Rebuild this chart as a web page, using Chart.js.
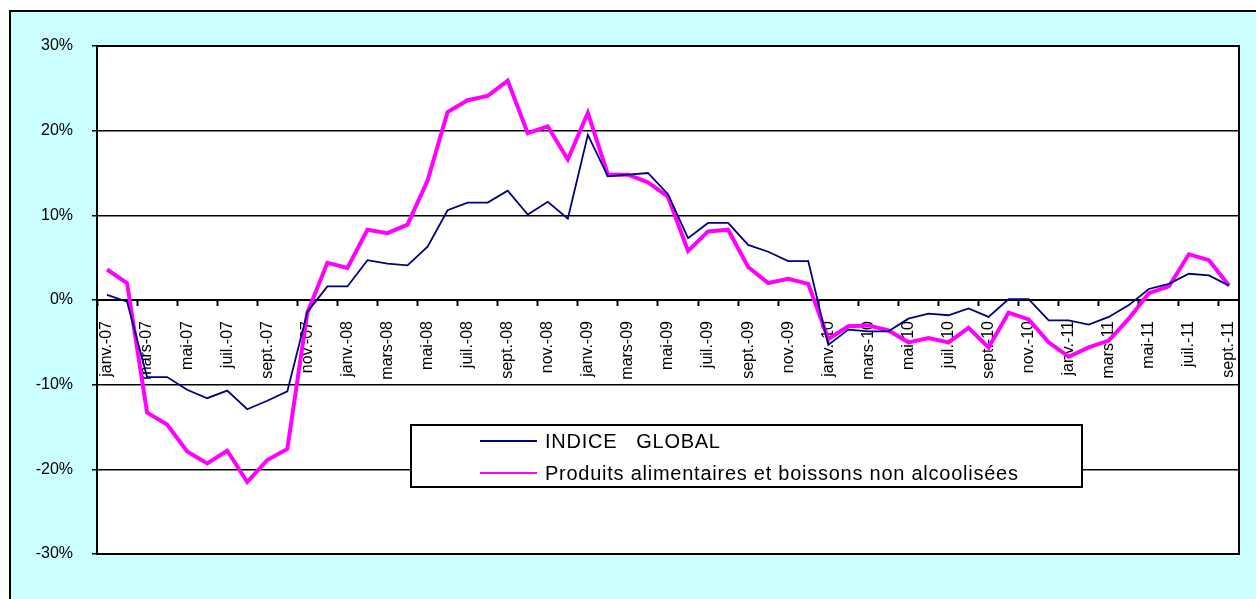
<!DOCTYPE html>
<html>
<head>
<meta charset="utf-8">
<script src="https://cdn.jsdelivr.net/npm/chart.js@4/dist/chart.umd.min.js"></script>
<style>
  body { margin: 0; background: #fff; overflow: hidden; }
  #frame { position: absolute; left: 9px; top: 10px; width: 1260px; height: 620px;
           background: #ccffff; border: 2px solid #000; }
  #wrap { position: absolute; left: 0; top: 0; width: 1256px; height: 599px; }
</style>
</head>
<body>
<div id="frame"></div>
<div id="wrap"><canvas id="lineChart" width="1256" height="599"></canvas></div>
<script>
// months janv.-07 .. sept.-11
const months = ['janv.', 'févr.', 'mars', 'avr.', 'mai', 'juin', 'juil.', 'août', 'sept.', 'oct.', 'nov.', 'déc.'];
const years = ['07', '08', '09', '10', '11'];
const labels = [];
years.forEach(y => months.forEach(m => labels.push(m + '-' + y)));
labels.length = 57;

const seriesNames = ['INDICE   GLOBAL', 'Produits alimentaires et boissons non alcoolisées'];

// glissement annuel (%)
const indiceGlobal = [0.6, -0.2, -9.1, -9.1, -10.6, -11.6, -10.7, -12.9, -11.9, -10.8,
    -1.4, 1.6, 1.6, 4.7, 4.3, 4.1, 6.3, 10.6, 11.5, 11.5,
    12.9, 10.1, 11.6, 9.6, 19.5, 14.6, 14.8, 15.0, 12.5, 7.3,
    9.1, 9.1, 6.5, 5.7, 4.6, 4.6, -5.3, -3.5, -3.7, -3.7,
    -2.2, -1.6, -1.8, -1.0, -2.0, 0.1, 0.1, -2.4, -2.4, -2.9,
    -2.0, -0.6, 1.3, 1.9, 3.1, 2.9, 1.7];
const alimentaires = [3.6, 2.0, -13.3, -14.7, -17.9, -19.3, -17.8, -21.5, -18.9, -17.6,
    -1.5, 4.4, 3.8, 8.3, 7.9, 8.9, 14.1, 22.2, 23.6, 24.1,
    25.9, 19.7, 20.5, 16.6, 22.1, 14.8, 14.8, 13.9, 12.2, 5.8,
    8.1, 8.3, 3.9, 2.0, 2.5, 1.9, -4.6, -3.1, -3.0, -3.6,
    -5.0, -4.5, -5.0, -3.3, -5.6, -1.5, -2.3, -5.0, -6.7, -5.6,
    -4.8, -2.2, 0.8, 1.6, 5.4, 4.7, 1.7];

const yTicks = [-30, -20, -10, 0, 10, 20, 30];

const FONT = "'Liberation Sans', Arial, sans-serif";

// white plot area + black frame around it
const plotArea = {
    id: 'plotArea',
    beforeDraw(chart) {
        const {ctx, chartArea: a} = chart;
        ctx.save();
        ctx.fillStyle = '#fff';
        ctx.fillRect(a.left, a.top, a.right - a.left, a.bottom - a.top);
        ctx.restore();
    },
    beforeDatasetsDraw(chart) {
        const {ctx, chartArea: a} = chart;
        ctx.save();
        ctx.strokeStyle = '#000';
        ctx.lineWidth = 2;
        ctx.strokeRect(a.left, a.top, a.right - a.left, a.bottom - a.top);
        ctx.restore();
    }
};

// boxed legend inside the plot, like the Excel one
const boxLegend = {
    id: 'boxLegend',
    afterDatasetsDraw(chart) {
        const ctx = chart.ctx;
        ctx.save();
        ctx.fillStyle = '#fff';
        ctx.fillRect(411, 425, 671, 62);
        ctx.strokeStyle = '#000';
        ctx.lineWidth = 2;
        ctx.strokeRect(411, 425, 671, 62);
        ctx.font = '20px ' + FONT;
        ctx.letterSpacing = '0.75px';
        ctx.textBaseline = 'middle';
        chart.data.datasets.forEach((ds, i) => {
            const y = 441 + i * 32;
            ctx.strokeStyle = ds.borderColor;
            ctx.lineWidth = 2;
            ctx.beginPath();
            ctx.moveTo(480, y);
            ctx.lineTo(537, y);
            ctx.stroke();
            ctx.fillStyle = '#000';
            ctx.fillText(ds.label, 545, y + 1);
        });
        ctx.restore();
    }
};

const ctxLine = document.getElementById('lineChart').getContext('2d');
new Chart(ctxLine, {
    type: 'line',
    data: {
        labels: labels,
        datasets: [{
            label: seriesNames[0],
            data: indiceGlobal,
            borderColor: '#000080',
            borderWidth: 1.8,
            pointRadius: 0,
            tension: 0
        }, {
            label: seriesNames[1],
            data: alimentaires,
            borderColor: '#ff00ff',
            borderWidth: 4,
            pointRadius: 0,
            tension: 0
        }]
    },
    options: {
        responsive: false,
        animation: false,
        layout: { padding: { left: 0, top: 46, right: 17, bottom: 45 } },
        plugins: {
            legend: { display: false },
            tooltip: { enabled: false }
        },
        scales: {
            x: {
                type: 'category',
                position: { y: 0 },
                offset: true,
                afterFit: s => { s.paddingLeft = 0; s.paddingRight = 0; },
                grid: {
                    offset: true,
                    drawOnChartArea: false,
                    tickLength: 5,
                    tickWidth: 2,
                    tickColor: c => (c.index !== undefined && c.index % 2 === 0) ? '#000' : 'rgba(0,0,0,0)'
                },
                border: { display: true, color: '#000', width: 2 },
                ticks: {
                    autoSkip: false,
                    minRotation: 90,
                    maxRotation: 90,
                    padding: 16,
                    color: '#000',
                    font: { family: FONT, size: 16 },
                    callback: (v, i) => i % 2 === 0 ? labels[i] : ''
                }
            },
            y: {
                min: yTicks[0],
                max: yTicks[yTicks.length - 1],
                afterBuildTicks: s => { s.ticks = yTicks.map(v => ({ value: v })); },
                afterFit: s => { s.width = 97; },
                grid: {
                    color: '#000',
                    lineWidth: 1.5,
                    tickLength: 5,
                    tickColor: '#000'
                },
                border: { display: true, color: '#000', width: 2 },
                ticks: {
                    padding: 19,
                    color: '#000',
                    font: { family: FONT, size: 16 },
                    callback: v => v + '%'
                }
            }
        }
    },
    plugins: [plotArea, boxLegend]
});
</script>
</body>
</html>
